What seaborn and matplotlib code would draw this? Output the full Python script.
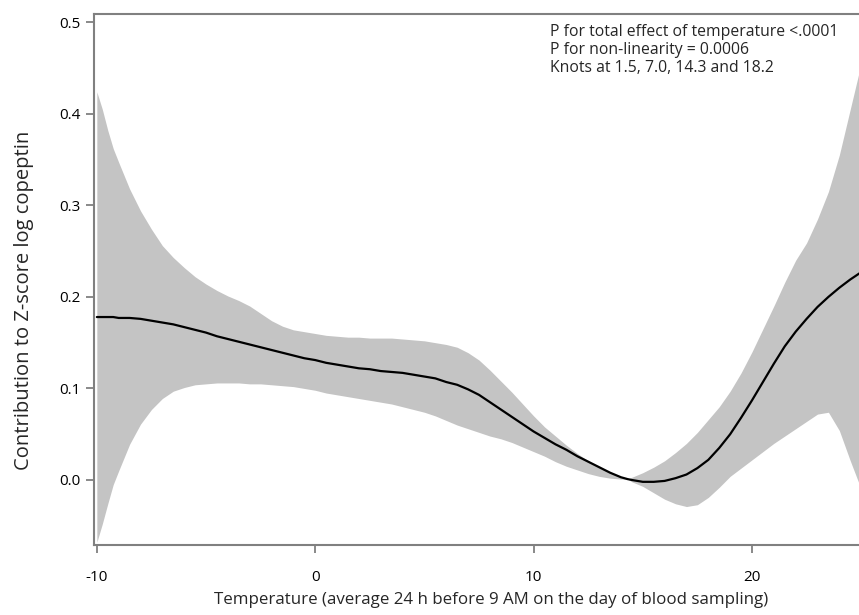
import numpy as np
import pandas as pd
import matplotlib
matplotlib.use("Agg")
import matplotlib.pyplot as plt
import seaborn as sns

# spline estimate and 95% band
temp = [-10, -9.75, -9.5, -9.25, -9, -8.5, -8, -7.5, -7, -6.5, -6, -5.5, -5, -4.5, -4,
        -3.5, -3, -2.5, -2, -1.5, -1, -0.5, 0, 0.5, 1, 1.5, 2, 2.5, 3, 3.5, 4, 4.5, 5,
        5.5, 6, 6.5, 7, 7.5, 8, 8.5, 9, 9.5, 10, 10.5, 11, 11.5, 12, 12.5, 13, 13.5, 14,
        14.3, 14.5, 15, 15.5, 16, 16.5, 17, 17.5, 18, 18.5, 19, 19.5, 20, 20.5, 21, 21.5,
        22, 22.5, 23, 23.5, 24, 24.5, 25]
effect = [0.178, 0.178, 0.178, 0.178, 0.177, 0.177, 0.176, 0.174, 0.172, 0.170, 0.167,
          0.164, 0.161, 0.157, 0.154, 0.151, 0.148, 0.145, 0.142, 0.139, 0.136, 0.133,
          0.131, 0.128, 0.126, 0.124, 0.122, 0.121, 0.119, 0.118, 0.117, 0.115, 0.113,
          0.111, 0.107, 0.104, 0.099, 0.093, 0.085, 0.077, 0.069, 0.061, 0.053, 0.046,
          0.039, 0.033, 0.026, 0.020, 0.014, 0.008, 0.003, 0.001, 0.000, -0.002, -0.002,
          -0.001, 0.002, 0.006, 0.013, 0.022, 0.035, 0.050, 0.068, 0.087, 0.107, 0.127,
          0.146, 0.162, 0.176, 0.189, 0.200, 0.210, 0.219, 0.227]
upper = [0.424, 0.405, 0.382, 0.362, 0.347, 0.318, 0.294, 0.274, 0.256, 0.243, 0.232,
         0.222, 0.214, 0.207, 0.201, 0.196, 0.190, 0.182, 0.174, 0.168, 0.164, 0.162,
         0.160, 0.158, 0.157, 0.156, 0.156, 0.155, 0.155, 0.155, 0.154, 0.153, 0.152,
         0.150, 0.148, 0.145, 0.139, 0.131, 0.120, 0.108, 0.096, 0.083, 0.070, 0.058,
         0.048, 0.038, 0.029, 0.021, 0.014, 0.008, 0.003, 0.001, 0.003, 0.008, 0.014,
         0.021, 0.030, 0.040, 0.052, 0.066, 0.080, 0.097, 0.117, 0.140, 0.165, 0.190,
         0.216, 0.240, 0.259, 0.285, 0.315, 0.355, 0.405, 0.455]
lower = [-0.068, -0.048, -0.026, -0.005, 0.010, 0.039, 0.061, 0.077, 0.089, 0.097, 0.101,
         0.104, 0.105, 0.106, 0.106, 0.106, 0.105, 0.105, 0.104, 0.103, 0.102, 0.100,
         0.098, 0.095, 0.093, 0.091, 0.089, 0.087, 0.085, 0.083, 0.080, 0.077, 0.074,
         0.070, 0.065, 0.060, 0.056, 0.052, 0.048, 0.045, 0.041, 0.036, 0.031, 0.026,
         0.020, 0.015, 0.011, 0.007, 0.004, 0.002, 0.001, 0.001, -0.002, -0.007, -0.014,
         -0.021, -0.026, -0.029, -0.027, -0.019, -0.008, 0.004, 0.013, 0.022, 0.031,
         0.040, 0.048, 0.056, 0.064, 0.072, 0.074, 0.054, 0.021, -0.010]

annot = ["P for total effect of temperature <.0001",
         "P for non-linearity = 0.0006",
         "Knots at 1.5, 7.0, 14.3 and 18.2"]

df = pd.DataFrame({"temp": temp, "effect": effect, "upper": upper, "lower": lower})

sns.set_style("ticks")
plt.rcParams['font.family'] = ['Open Sans', 'DejaVu Sans']
plt.rcParams['axes.unicode_minus'] = False

fig = plt.figure(figsize=(8.59, 6.15), dpi=100)
ax = fig.add_axes([94 / 859, 70 / 615, 765 / 859, 531 / 615])

ax.fill_between(df["temp"], df["lower"], df["upper"], color="#c4c4c4", lw=0)
sns.lineplot(data=df, x="temp", y="effect", color="black", lw=1.6, ax=ax)

ax.set_xlim(-10.13, 24.9)
ax.set_ylim(-0.071, 0.509)
ax.set_xticks([-10, 0, 10, 20])
ax.set_yticks([0.0, 0.1, 0.2, 0.3, 0.4, 0.5])
ax.yaxis.set_major_formatter(matplotlib.ticker.FormatStrFormatter('%.1f'))

for s in ["left", "bottom", "top"]:
    ax.spines[s].set_color("#808080")
    ax.spines[s].set_linewidth(1.5)
ax.spines["right"].set_visible(False)
ax.tick_params(colors="#808080", labelcolor="black", length=6, width=1.3,
               labelsize=11)
ax.tick_params(axis="x", pad=12)

ax.set_xlabel("Temperature (average 24 h before 9 AM on the day of blood sampling)",
              fontsize=12.2)
ax.set_ylabel("Contribution to Z-score log copeptin", fontsize=14.5)
ax.xaxis.set_label_coords(0.519, -0.104)
ax.xaxis.label.set_va("center")
ax.yaxis.set_label_coords(-0.0915, 0.461)
ax.yaxis.label.set_va("center")

for i, line in enumerate(annot):
    fig.text(550 / 859, 1 - (32 + 18 * i) / 615, line, fontsize=11.3, va="center", ha="left")

fig.savefig("out.png", dpi=100)
